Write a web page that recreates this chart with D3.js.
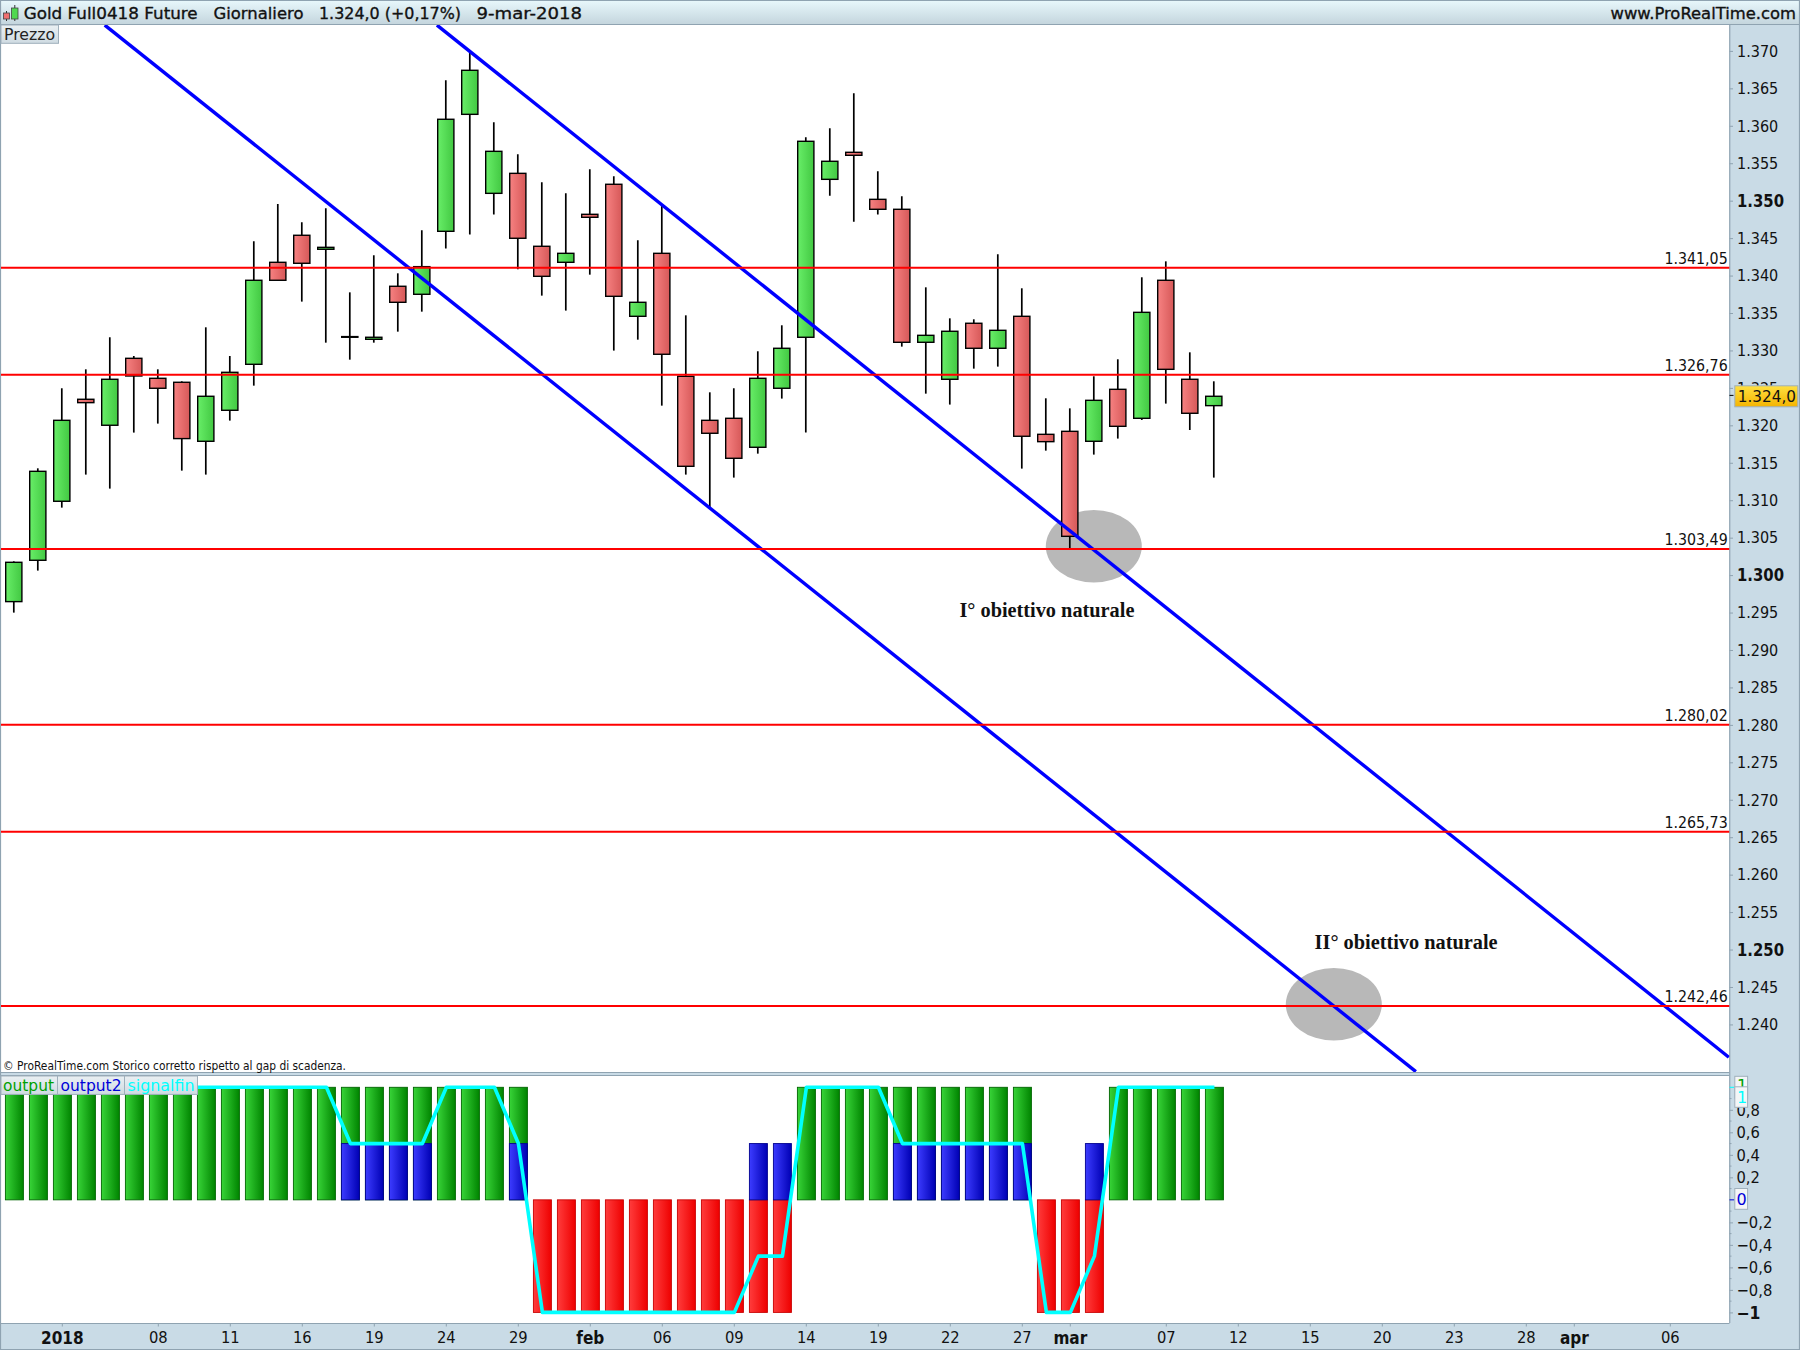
<!DOCTYPE html>
<html><head><meta charset="utf-8">
<script src="https://cdn.jsdelivr.net/npm/d3@7"></script>
<style>
html,body{margin:0;padding:0;background:#fff}
svg{display:block}
text{font-family:"DejaVu Sans",sans-serif;fill:#111}
</style></head><body>
<svg id="c" width="1800" height="1350"></svg>
<script>
// ---------- data ----------
const opens=[1296.46,1301.98,1309.86,1323.48,1320.01,1328.95,1326.28,1325.75,1317.87,1322.01,1328.15,1341.77,1345.38,1343.51,1331.76,1331.49,1338.57,1337.50,1345.91,1361.53,1350.98,1353.65,1343.91,1341.77,1348.18,1352.19,1334.56,1342.97,1326.55,1320.67,1320.94,1317.07,1324.95,1331.76,1352.85,1356.46,1350.18,1348.85,1331.09,1326.15,1333.63,1330.29,1334.56,1318.80,1319.20,1317.87,1324.81,1320.94,1339.37,1326.15,1322.63];
const closes=[1301.71,1313.86,1320.67,1323.03,1326.15,1326.59,1324.95,1318.23,1323.88,1327.08,1339.37,1339.37,1341.64,1343.77,1331.85,1331.76,1336.43,1341.19,1360.87,1367.41,1356.59,1344.98,1339.90,1342.97,1347.78,1337.23,1336.43,1329.49,1314.53,1318.94,1315.60,1326.28,1330.29,1357.93,1355.26,1356.06,1348.85,1331.09,1332.02,1332.56,1330.29,1332.69,1318.54,1317.82,1305.18,1323.34,1319.87,1335.09,1327.48,1321.61,1323.88];
const highs=[1301.84,1314.26,1324.95,1327.48,1331.76,1329.26,1327.48,1325.88,1333.09,1329.26,1344.57,1349.56,1347.11,1348.98,1337.76,1342.71,1340.30,1346.04,1366.07,1369.81,1360.46,1356.19,1352.45,1350.98,1354.19,1353.25,1344.71,1349.38,1334.69,1324.41,1324.95,1329.89,1333.36,1358.46,1359.66,1364.34,1353.92,1350.58,1338.43,1334.29,1334.16,1342.84,1338.30,1323.61,1322.27,1326.55,1328.82,1339.77,1341.90,1329.75,1325.88];
const lows=[1294.99,1300.60,1309.01,1313.42,1311.55,1319.03,1320.23,1313.95,1313.42,1320.63,1325.30,1339.37,1336.52,1331.04,1328.77,1331.04,1332.51,1335.18,1343.60,1345.47,1348.14,1340.84,1337.32,1335.32,1340.12,1329.98,1331.44,1322.63,1313.42,1308.92,1313.02,1316.22,1323.57,1319.03,1350.67,1347.20,1348.14,1330.51,1324.23,1322.77,1327.57,1327.84,1314.22,1316.62,1303.58,1316.09,1318.23,1320.72,1322.90,1319.38,1313.02];
const levels=[1341.05,1326.76,1303.49,1280.02,1265.73,1242.46];
const trendA=[[3.79,1373.45],[58.42,1233.70]];
const trendB=[[17.63,1373.45],[71.46,1235.62]];
const output=[1,1,1,1,1,1,1,1,1,1,1,1,1,1,1,1,1,1,1,1,1,1,-1,-1,-1,-1,-1,-1,-1,-1,-1,-1,-1,1,1,1,1,1,1,1,1,1,1,-1,-1,-1,1,1,1,1,1];
const output2=[0,0,0,0,0,0,0,0,0,0,0,0,0,0,.5,.5,.5,.5,0,0,0,.5,0,0,0,0,0,0,0,0,0,.5,.5,0,0,0,0,.5,.5,.5,.5,.5,.5,0,0,.5,0,0,0,0,0];
const signalfin=[1,1,1,1,1,1,1,1,1,1,1,1,1,1,.5,.5,.5,.5,1,1,1,.5,-1,-1,-1,-1,-1,-1,-1,-1,-1,-.5,-.5,1,1,1,1,.5,.5,.5,.5,.5,.5,-1,-1,-.5,1,1,1,1,1];
const priceTicks=[1240,1245,1250,1255,1260,1265,1270,1275,1280,1285,1290,1295,1300,1305,1310,1315,1320,1325,1330,1335,1340,1345,1350,1355,1360,1365,1370];
const priceBold=[1250,1300,1350];
const indicatorTicks=[-1,-.8,-.6,-.4,-.2,.2,.4,.6,.8];
const indicatorMinor=[-.9,-.7,-.5,-.3,-.1,.1,.3,.5,.7,.9];
const dateIdx=[2,6,9,12,15,18,21,24,27,30,33,36,39,42,44,48,51,54,57,60,63,65,69];
const dateLabels=["2018","08","11","16","19","24","29","feb","06","09","14","19","22","27","mar","07","12","15","20","23","28","apr","06"];
const dateBold=["2018","feb","mar","apr"];
const lastPrice=1324.0;
const annotations=[{text:"I° obiettivo naturale",i:39.4,p:1294.45,len:175},{text:"II° obiettivo naturale",i:54.2,p:1250.08,len:183}];
const ellipses=[{i:45,p:1303.85},{i:55,p:1242.69}];
const titleParts=[["Gold Full0418 Future",23.7,174],["Giornaliero",213.5,90],["1.324,0 (+0,17%)",319,142],["9-mar-2018",476.5,105.5]];

// ---------- frame ----------
const W=1800,H=1350,L=1,R=1729.5,T=25,B=1072,IT=1076,IB=1323;
const AXBG="#c9dbe6",EDGE="#8fa3b1";
const loc=d3.formatLocale({decimal:",",thousands:".",grouping:[3],currency:["€",""]});
const fP=loc.format(",d"),fL=loc.format(",.2f"),fI=loc.format(".1f"),fLast=loc.format(",.1f");

const x=d3.scaleLinear().domain([0,50]).range([13.8,1213.8]);
const y=d3.scaleLinear().domain([1341.05,1242.46]).range([267.7,1006]);
const yi=d3.scaleLinear().domain([1,-1]).range([1087.3,1312.4]);

const svg=d3.select("#c");
const defs=svg.append("defs");
function grad(id,a,b,vert){const g=defs.append("linearGradient").attr("id",id);
 if(vert)g.attr("x1",0).attr("y1",0).attr("x2",0).attr("y2",1);
 g.append("stop").attr("offset","0%").attr("stop-color",a);
 g.append("stop").attr("offset","100%").attr("stop-color",b);}
grad("cg","#68ee68","#42c842");grad("cr","#f78282","#d65858");
grad("bg","#38d438","#008400");grad("br","#ff3c3c","#ee0000");grad("bb","#3c3cff","#0000b4");
grad("tb","#e8f8fc","#c4d5dd",true);grad("yl","#ffe040","#f4b400",true);grad("lg","#eaf0f3","#cfdbe2",true);
defs.append("clipPath").attr("id","pc").append("rect").attr("x",L).attr("y",T).attr("width",R-L).attr("height",B-T);

// squeeze a text horizontally so the taller glyphs keep the reference's width
function squeeze(sel,f){sel.each(function(d,i){
 const k=typeof f==="function"?f(d,i):f;
 this.setAttribute("textLength",this.getComputedTextLength()*k);
 this.setAttribute("lengthAdjust","spacingAndGlyphs");});}

// backgrounds
svg.append("rect").attr("width",W).attr("height",H).attr("fill",AXBG);
svg.append("rect").attr("x",L).attr("y",T).attr("width",R-L).attr("height",B-T).attr("fill","#fff");
svg.append("rect").attr("x",L).attr("y",IT).attr("width",R-L).attr("height",IB-IT).attr("fill","#fff");
svg.append("rect").attr("width",W).attr("height",24.5).attr("fill","url(#tb)");
const frame=[[0,.5,W,.5],[0,24.5,W,24.5],[0,B+.5,R,B+.5],[0,IT-.5,R,IT-.5],[0,IB+.5,R,IB+.5],[0,H-.5,W,H-.5],[.5,0,.5,H],[W-.5,0,W-.5,H],[R+.25,25,R+.25,IB]];
svg.append("g").selectAll("line").data(frame).join("line")
 .attr("x1",d=>d[0]).attr("y1",d=>d[1]).attr("x2",d=>d[2]).attr("y2",d=>d[3])
 .attr("stroke",EDGE).attr("stroke-width",1.2);

// price pane
const pane=svg.append("g").attr("clip-path","url(#pc)");
pane.selectAll("ellipse").data(ellipses).join("ellipse")
 .attr("cx",d=>x(d.i)).attr("cy",d=>y(d.p)).attr("rx",48).attr("ry",36.3).attr("fill","#b8b8b8");

const idx=d3.range(opens.length);
pane.append("g").selectAll("line").data(idx).join("line")
 .attr("x1",i=>x(i)).attr("x2",i=>x(i)).attr("y1",i=>y(highs[i])).attr("y2",i=>y(lows[i]))
 .attr("stroke","#000").attr("stroke-width",1.7);
pane.append("g").selectAll("rect").data(idx).join("rect")
 .attr("x",i=>x(i)-8.1).attr("width",16.2)
 .attr("y",i=>y(Math.max(opens[i],closes[i])))
 .attr("height",i=>Math.abs(y(opens[i])-y(closes[i])))
 .attr("fill",i=>closes[i]>=opens[i]?"url(#cg)":"url(#cr)")
 .attr("stroke","#000").attr("stroke-width",1.4);

const tl=d3.line().x(d=>x(d[0])).y(d=>y(d[1]));
pane.selectAll("path.t").data([trendA,trendB]).join("path").attr("class","t")
 .attr("d",tl).attr("fill","none").attr("stroke","#0000ff").attr("stroke-width",3.4);
pane.append("g").selectAll("line").data(levels).join("line")
 .attr("x1",L).attr("x2",R).attr("y1",d=>y(d)).attr("y2",d=>y(d))
 .attr("stroke","#ff0000").attr("stroke-width",2);
svg.append("g").selectAll("text").data(levels).join("text")
 .attr("x",R-1.8).attr("y",d=>y(d)-3.6).attr("text-anchor","end")
 .attr("font-size",15).text(fL).call(squeeze,.947);
svg.append("g").selectAll("text").data(annotations).join("text")
 .attr("x",d=>x(d.i)).attr("y",d=>y(d.p)).attr("textLength",d=>d.len).attr("lengthAdjust","spacingAndGlyphs")
 .style("font-family","'Liberation Serif',serif").style("font-weight","bold").attr("font-size",20).text(d=>d.text);

// title bar
const icon=svg.append("g");
icon.append("line").attr("x1",6.5).attr("x2",6.5).attr("y1",11).attr("y2",21).attr("stroke","#333");
icon.append("rect").attr("x",3.5).attr("y",13).attr("width",6).attr("height",6).attr("fill","#f07070").attr("stroke","#444").attr("stroke-width",.8);
icon.append("line").attr("x1",14.8).attr("x2",14.8).attr("y1",5).attr("y2",21).attr("stroke","#333");
icon.append("rect").attr("x",11.5).attr("y",8).attr("width",6.5).attr("height",11).attr("fill","#50d850").attr("stroke","#444").attr("stroke-width",.8);
svg.append("g").selectAll("text").data(titleParts).join("text")
 .attr("x",d=>d[1]).attr("y",19).attr("textLength",d=>d[2]).attr("lengthAdjust","spacingAndGlyphs")
 .attr("font-size",16.5).attr("stroke","#111").attr("stroke-width",.35).text(d=>d[0]);
svg.append("text").attr("x",1796).attr("y",19).attr("text-anchor","end").attr("font-size",16.5).attr("stroke","#111").attr("stroke-width",.35)
 .attr("textLength",185.5).attr("lengthAdjust","spacingAndGlyphs").text("www.ProRealTime.com");
function tag(g,x0,y0,w,h,t,c,fs,tx,ty,fill){
 g.append("rect").attr("x",x0).attr("y",y0).attr("width",w).attr("height",h).attr("fill",fill||"url(#lg)").attr("stroke","#9fb0bc").attr("stroke-width",1);
 const s=g.append("text").attr("x",tx).attr("y",ty).attr("font-size",fs).text(t);s.node().style.fill=c;return s;}
tag(svg.append("g"),1,25,57.5,18.3,"Prezzo","#222",16,4,40).attr("textLength",51).attr("lengthAdjust","spacingAndGlyphs");
svg.append("text").attr("x",3).attr("y",1070).attr("font-size",12).attr("textLength",343).attr("lengthAdjust","spacingAndGlyphs")
 .text("© ProRealTime.com  Storico corretto rispetto al gap di scadenza.");

// price axis
const ax=svg.append("g").attr("transform",`translate(${R},0)`)
 .call(d3.axisRight(y).tickValues(priceTicks).tickFormat(fP).tickSize(3.5).tickPadding(4));
ax.select(".domain").remove();
ax.selectAll("line").attr("stroke",EDGE);
ax.selectAll("text").attr("font-size",d=>priceBold.includes(d)?17.5:16).attr("font-weight",d=>priceBold.includes(d)?"bold":"normal")
 .attr("dy","0.33em").call(squeeze,d=>priceBold.includes(d)?.85:.9);
svg.append("line").attr("x1",R).attr("x2",R+4).attr("y1",y(lastPrice)).attr("y2",y(lastPrice)).attr("stroke","#000");
const lastG=svg.append("g");
tag(lastG,1734.8,385.8,63,21,fLast(lastPrice),"#111",16,1737.7,401.8,"url(#yl)").attr("textLength",58.3).attr("lengthAdjust","spacingAndGlyphs");

// indicator pane
const bars=svg.append("g");
const bw=18;
bars.selectAll("rect.o").data(idx).join("rect").attr("class","o")
 .attr("x",i=>x(i)+.6-bw/2).attr("width",bw)
 .attr("y",i=>yi(Math.max(output[i],0))).attr("height",i=>Math.abs(yi(output[i])-yi(0)))
 .attr("fill",i=>output[i]>0?"url(#bg)":"url(#br)")
 .attr("stroke",i=>output[i]>0?"#006400":"#c80000").attr("stroke-width",.9);
bars.selectAll("rect.b").data(idx.filter(i=>output2[i]!==0)).join("rect").attr("class","b")
 .attr("x",i=>x(i)+.6-bw/2).attr("width",bw)
 .attr("y",i=>yi(output2[i])).attr("height",i=>yi(0)-yi(output2[i]))
 .attr("fill","url(#bb)").attr("stroke","#000090").attr("stroke-width",.9);
svg.append("path").datum(signalfin)
 .attr("d",d3.line().x((d,i)=>x(i)+.6).y(d=>yi(d)))
 .attr("fill","none").attr("stroke","#00ffff").attr("stroke-width",3.6).attr("stroke-linejoin","round");

const legendG=svg.append("g");
[["output","#00a000",1,56.5,3,51],["output2","#0000d8",57.5,67,60.5,61],["signalfin","#00ffff",124.5,73,127.5,67]].forEach(d=>{
 tag(legendG,d[2],IT,d[3],18.4,d[0],d[1],16.5,d[4],1090.8).attr("textLength",d[5]).attr("lengthAdjust","spacingAndGlyphs");
});

// indicator axis
const ai=svg.append("g").attr("transform",`translate(${R},0)`)
 .call(d3.axisRight(yi).tickValues(indicatorTicks).tickFormat(d=>d===-1?"−1":fI(d)).tickSize(3.5).tickPadding(3.5));
ai.select(".domain").remove();
ai.selectAll("line").attr("stroke",EDGE);
ai.selectAll("text").attr("font-size",d=>d===-1?17:16).attr("font-weight",d=>d===-1?"bold":"normal")
 .attr("dy","0.33em").call(squeeze,.92);
svg.append("g").selectAll("line").data(indicatorMinor).join("line")
 .attr("x1",R).attr("x2",R+2).attr("y1",d=>yi(d)).attr("y2",d=>yi(d)).attr("stroke",EDGE);
svg.append("line").attr("x1",R).attr("x2",R+5).attr("y1",yi(1)).attr("y2",yi(1)).attr("stroke","#00ffff");
svg.append("line").attr("x1",R).attr("x2",R+5).attr("y1",yi(0)).attr("y2",yi(0)).attr("stroke","#0000d8");
const boxes=svg.append("g");
tag(boxes,1734.8,1076.3,12.8,22,"1","#00a000",16,1737,1090.5,"#f4f6f7");
tag(boxes,1734.8,1086.8,12.8,20.5,"1","#00ffff",16,1737,1102.8,"#f4f6f7");
tag(boxes,1734.8,1188.5,12.8,20.8,"0","#0000d8",16,1736.6,1204.8,"#f4f6f7");

// date axis
const ad=svg.append("g").attr("transform",`translate(0,${IB})`)
 .call(d3.axisBottom(x).tickValues(dateIdx).tickFormat((d,i)=>dateLabels[i]).tickSize(3.5).tickPadding(5.5));
ad.select(".domain").remove();
ad.selectAll("line").attr("stroke",EDGE);
ad.selectAll("text").attr("font-size",(d,i)=>dateBold.includes(dateLabels[i])?17:16)
 .attr("font-weight",(d,i)=>dateBold.includes(dateLabels[i])?"bold":"normal")
 .call(squeeze,(d,i)=>dateBold.includes(dateLabels[i])?.9:.92);
</script>
</body></html>
